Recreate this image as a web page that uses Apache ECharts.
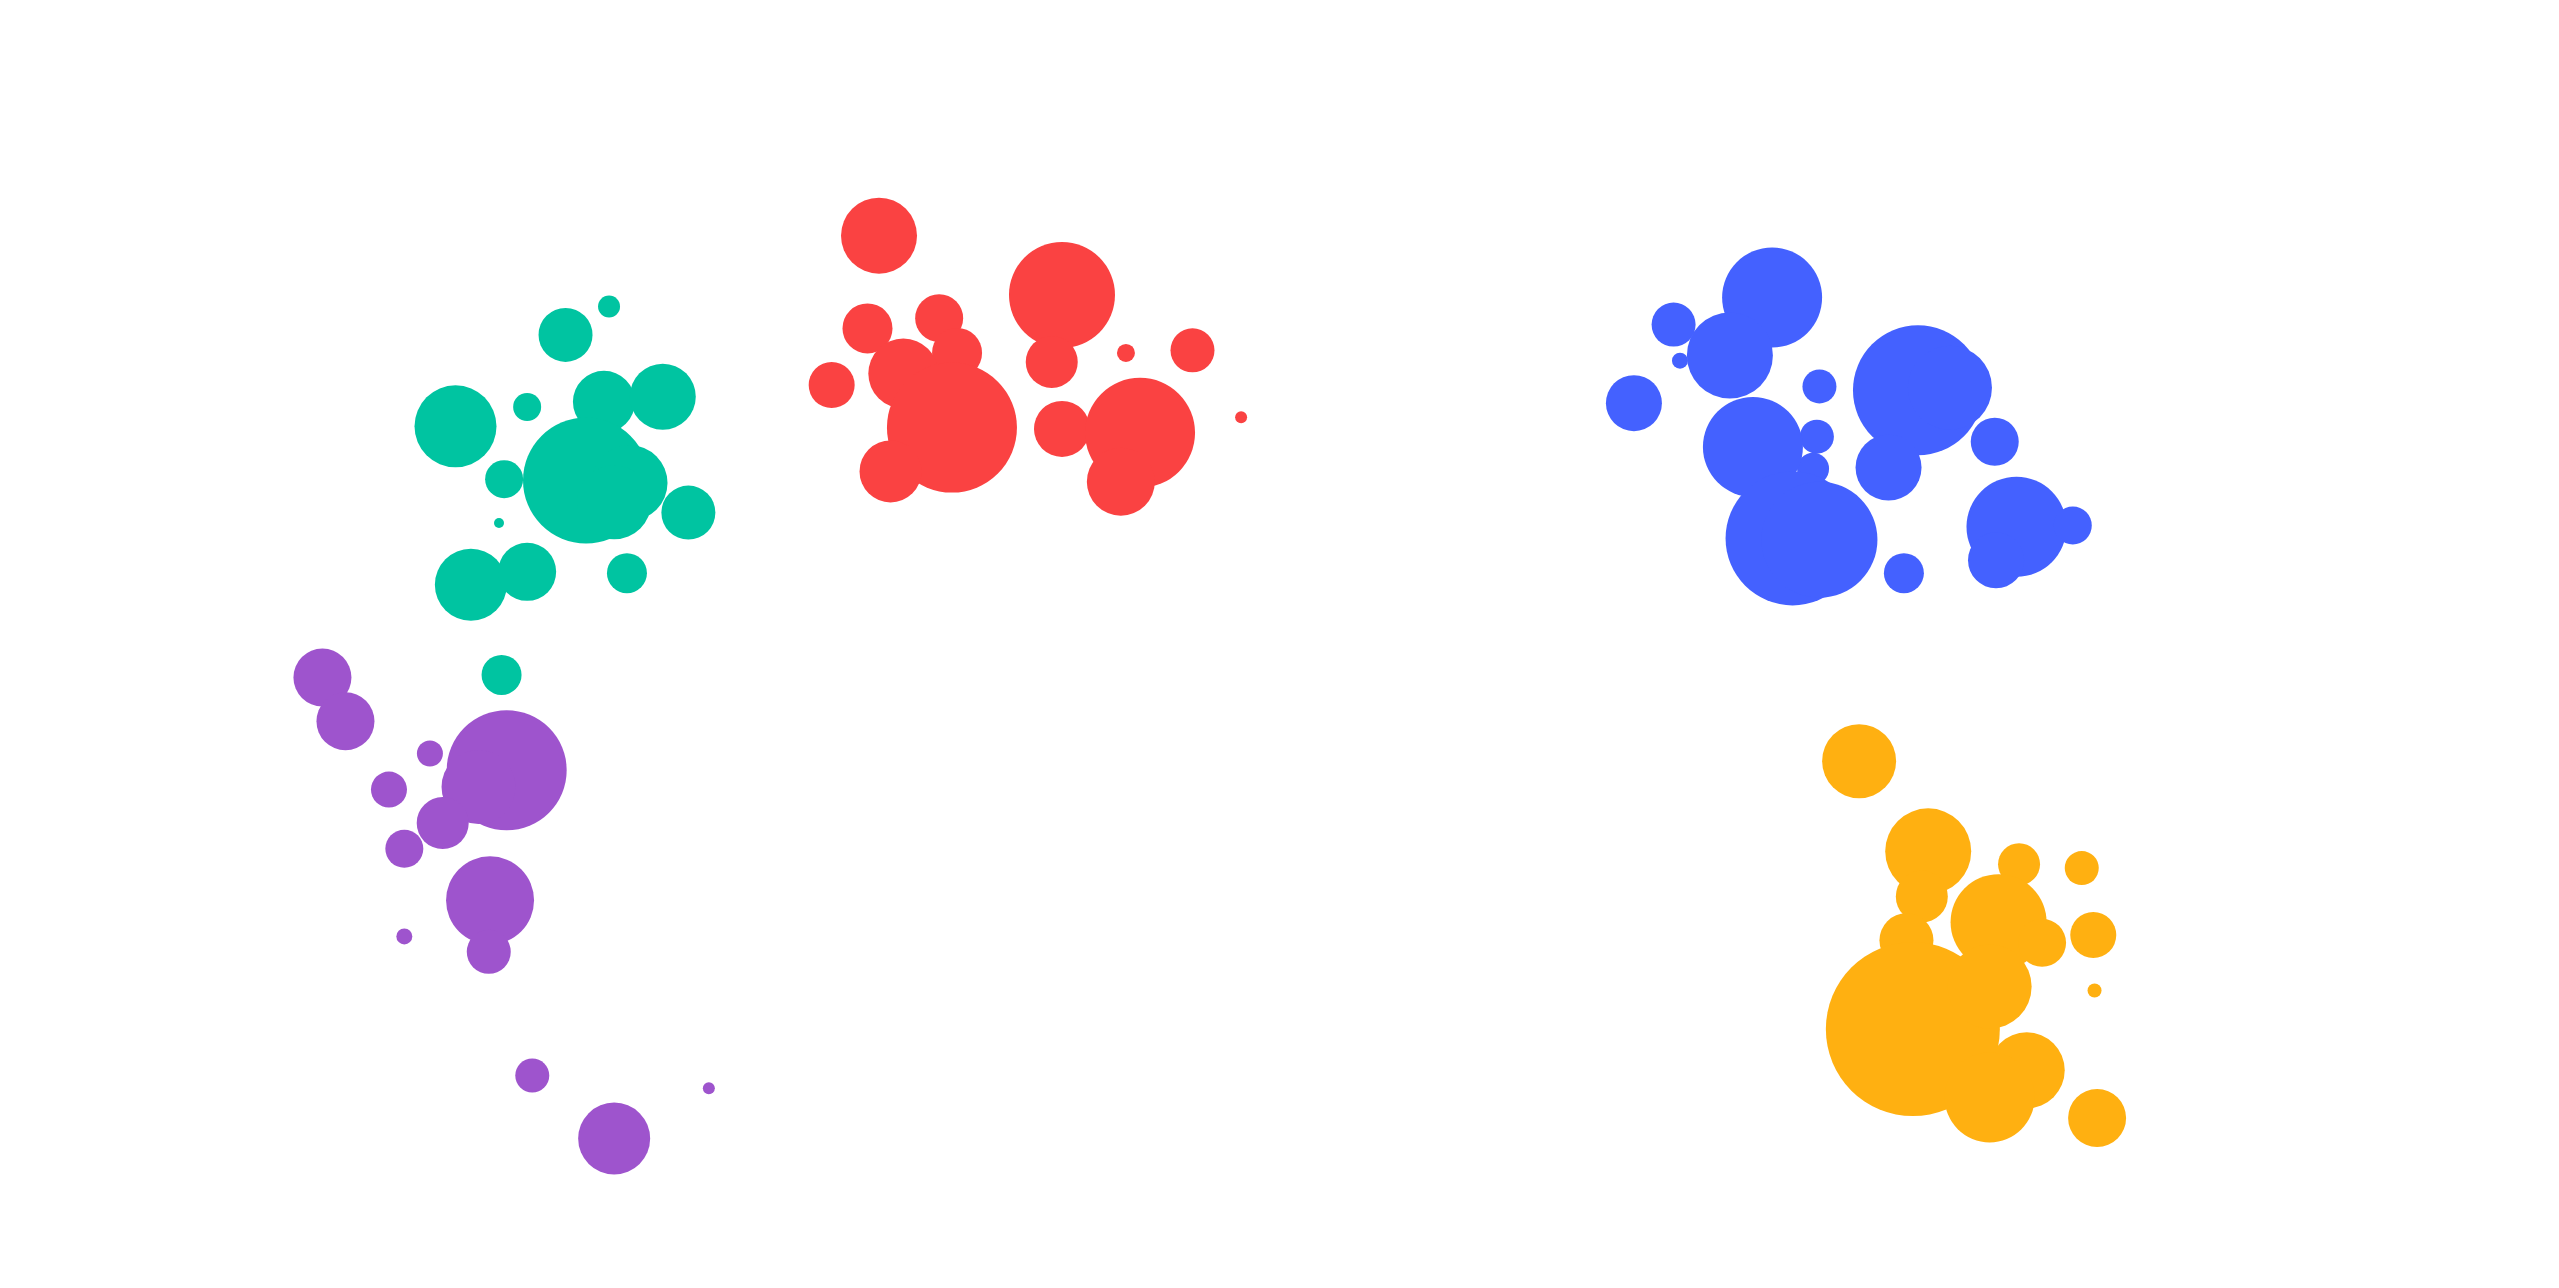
<!DOCTYPE html>
<html>
<head>
<meta charset="utf-8">
<script src="https://cdn.jsdelivr.net/npm/echarts@6/dist/echarts.min.js"></script>
<style>
html,body{margin:0;padding:0;background:#ffffff;}
#chart{width:2559px;height:1288px;}
</style>
</head>
<body>
<div id="chart"></div>
<script>
// Each point: [x, y, bubble size]
var greenData = [
  [22.1, 74.0, 54], [23.8, 76.2, 22], [17.8, 66.9, 82], [20.6, 68.4, 28],
  [23.6, 68.8, 62], [25.9, 69.2, 66], [22.9, 62.7, 126], [24.6, 62.5, 76],
  [24.0, 61.0, 74], [19.7, 62.8, 38], [19.5, 59.4, 10], [26.9, 60.2, 54],
  [18.4, 54.6, 72], [20.6, 55.6, 58], [24.5, 55.5, 40], [19.6, 47.6, 40]
];
var purpleData = [
  [12.6, 47.4, 58], [13.5, 44.0, 58], [16.8, 41.5, 26], [19.8, 40.2, 120],
  [18.7, 38.9, 74], [15.2, 38.7, 36], [17.3, 36.1, 52], [15.8, 34.1, 38],
  [19.15, 30.1, 88], [19.1, 26.1, 44], [15.8, 27.3, 16], [20.8, 16.5, 34],
  [24.0, 11.6, 72], [27.7, 15.5, 12]
];
var redData = [
  [34.35, 81.7, 76], [33.9, 74.5, 50], [36.7, 75.3, 48], [37.4, 72.6, 50],
  [32.5, 70.1, 46], [35.3, 71.0, 70], [37.2, 66.8, 130], [34.8, 63.4, 62],
  [41.5, 77.1, 106], [41.1, 71.9, 52], [44.0, 72.6, 18], [46.6, 72.8, 44],
  [48.5, 67.6, 12], [41.5, 66.7, 56], [44.55, 66.4, 110], [43.8, 62.6, 68]
];
var blueData = [
  [65.4, 74.8, 44], [65.65, 72.0, 16], [63.85, 68.7, 56], [69.25, 76.9, 100],
  [67.6, 72.4, 86], [71.1, 70.0, 34], [74.95, 69.7, 130], [76.2, 69.9, 84],
  [73.8, 63.7, 66], [77.95, 65.7, 48], [71.0, 66.1, 34], [70.85, 63.6, 32],
  [68.5, 65.3, 100], [70.05, 58.2, 134], [71.1, 58.1, 116], [74.4, 55.5, 40],
  [78.8, 59.1, 100], [78.0, 56.5, 56], [81.0, 59.2, 38]
];
var orangeData = [
  [72.65, 40.9, 74], [75.35, 33.9, 86], [75.1, 30.4, 52], [78.9, 32.9, 42],
  [81.35, 32.6, 34], [74.5, 27.0, 54], [78.1, 28.4, 96], [79.8, 26.8, 48],
  [81.8, 27.4, 46], [81.85, 23.1, 14], [74.75, 20.1, 174], [77.75, 23.4, 84],
  [79.2, 16.9, 76], [77.75, 14.8, 90], [81.95, 13.2, 58]
];
var seriesNames = ['Green', 'Purple', 'Red', 'Blue', 'Orange'];
var seriesColors = ['#00C4A1', '#9E54CD', '#FA4242', '#4461FF', '#FFB011'];
var seriesData = [greenData, purpleData, redData, blueData, orangeData];

var chart = echarts.init(document.getElementById('chart'));
chart.setOption({
  animation: false,
  backgroundColor: '#ffffff',
  grid: {left: 0, right: 0, top: 0, bottom: 0},
  xAxis: {type: 'value', min: 0, max: 100, show: false},
  yAxis: {type: 'value', min: 0, max: 100, show: false},
  series: seriesData.map(function (d, i) {
    return {
      name: seriesNames[i],
      type: 'scatter',
      data: d,
      symbol: 'circle',
      symbolSize: function (v) { return v[2]; },
      itemStyle: {color: seriesColors[i], opacity: 1}
    };
  })
});
</script>
</body>
</html>
